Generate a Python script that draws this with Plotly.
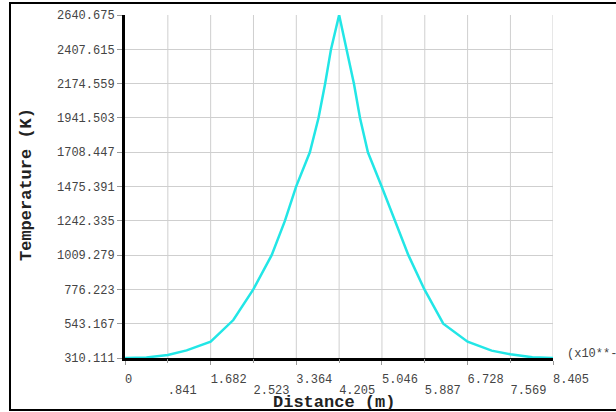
import plotly.graph_objects as go

# Data (distance in units of 10**-2 m, temperature in K)
distance = [0, 0.42, 0.841, 1.21, 1.682, 2.127, 2.52, 2.88, 3.14, 3.36, 3.63, 3.80, 3.93,
            4.045, 4.205, 4.353, 4.496, 4.615, 4.77, 5.04, 5.30, 5.565, 5.88, 6.25, 6.728,
            7.2, 7.569, 8.0, 8.405]
temperature = [310.111, 314, 330, 362, 421, 568, 776, 1009, 1242, 1475, 1708, 1941, 2174,
               2407, 2640.675, 2407, 2174, 1941, 1708, 1475, 1242, 1009, 776, 543, 421,
               360, 335, 315, 310.111]

x_ticks = [0, 0.841, 1.682, 2.523, 3.364, 4.205, 5.046, 5.887, 6.728, 7.569, 8.405]
x_tick_labels = ["0", ".841", "1.682", "2.523", "3.364", "4.205", "5.046", "5.887",
                 "6.728", "7.569", "8.405"]
y_ticks = [310.111, 543.167, 776.223, 1009.279, 1242.335, 1475.391, 1708.447,
           1941.503, 2174.559, 2407.615, 2640.675]
y_tick_labels = ["310.111", "543.167", "776.223", "1009.279", "1242.335", "1475.391",
                 "1708.447", "1941.503", "2174.559", "2407.615", "2640.675"]

MONO = "Liberation Mono, Courier New, monospace"
GRID = "#cfcfcf"
TICKFONT = dict(family=MONO, size=12, color="#444444")
TITLEFONT = dict(family=MONO, size=17, color="#222222")

def left_align(lbl):
    # pad with non-breaking spaces so the centred label starts at its tick
    return "\u00a0" * len(lbl) + lbl

even_vals = x_ticks[0::2]
even_text = [left_align(t) for t in x_tick_labels[0::2]]
odd_vals = x_ticks[1::2]
odd_text = [left_align(t) for t in x_tick_labels[1::2]]

fig = go.Figure()
fig.add_trace(go.Scatter(
    x=distance, y=temperature, mode="lines",
    line=dict(color="#22e6e6", width=2.5),
    showlegend=False, hoverinfo="skip",
))
# invisible trace to activate the second-row x axis
fig.add_trace(go.Scatter(x=[x_ticks[0], x_ticks[-1]], y=[y_ticks[0], y_ticks[0]],
                         xaxis="x2", mode="lines", line=dict(width=0),
                         showlegend=False, hoverinfo="skip"))

fig.update_layout(
    width=616, height=412,
    margin=dict(l=125, r=63, t=15, b=54, autoexpand=False),
    paper_bgcolor="white", plot_bgcolor="white",
    font=dict(family=MONO, size=12, color="#333333"),
    xaxis=dict(
        range=[0, 8.405], tickmode="array", tickvals=even_vals, ticktext=even_text,
        tickfont=TICKFONT, showgrid=False, zeroline=False, automargin=False,
        showline=True, linecolor="black", linewidth=3,
        ticks="outside", ticklen=4, tickcolor="#999999",
        ticklabelstandoff=4,
        fixedrange=True,
    ),
    xaxis2=dict(
        range=[0, 8.405], overlaying="x", side="bottom", anchor="y",
        tickmode="array", tickvals=odd_vals, ticktext=odd_text, automargin=False,
        tickfont=TICKFONT, showgrid=False, zeroline=False, showline=False,
        ticks="outside", ticklen=4, tickcolor="#999999",
        ticklabelstandoff=17,
        fixedrange=True,
    ),
    yaxis=dict(
        range=[310.111, 2640.675], tickmode="array", tickvals=y_ticks, ticktext=y_tick_labels,
        tickfont=TICKFONT, showgrid=True, gridcolor=GRID, gridwidth=1, zeroline=False,
        showline=True, linecolor="black", linewidth=3, automargin=False,
        ticks="outside", ticklen=5, tickcolor="#999999",
        fixedrange=True,
    ),
)

# vertical grid lines at every x tick (including the right edge)
for v in x_ticks[1:]:
    fig.add_shape(type="line", xref="x", yref="paper", x0=v, x1=v, y0=0, y1=1,
                  line=dict(color=GRID, width=1), layer="below")

# axis titles
fig.add_annotation(text="<b>Distance (m)</b>", xref="paper", yref="paper",
                   x=(334 - 125) / 428, y=-(402.5 - 358) / 343, xanchor="center", yanchor="middle",
                   showarrow=False, font=TITLEFONT)
fig.add_annotation(text="<b>Temperature (K)</b>", xref="paper", yref="paper",
                   x=(26 - 125) / 428, y=(358 - 185) / 343, xanchor="center", yanchor="middle",
                   textangle=-90, showarrow=False, font=TITLEFONT)

fig.add_annotation(text="(x10**-2)", xref="paper", yref="paper", x=(565 - 553) / 428 + 1, y=(358 - 354) / 343,
                   xanchor="left", yanchor="middle", showarrow=False,
                   font=dict(family=MONO, size=12, color="#444444"))

# outer frame
fig.add_shape(type="rect", xref="paper", yref="paper",
              x0=-0.2687, x1=1.16, y0=-0.1516, y1=1.035,
              line=dict(color="black", width=2), fillcolor="rgba(0,0,0,0)")

fig.write_html("out.html", config={"displayModeBar": False},
               post_script="document.body.style.margin='0';document.body.style.overflow='hidden';")
